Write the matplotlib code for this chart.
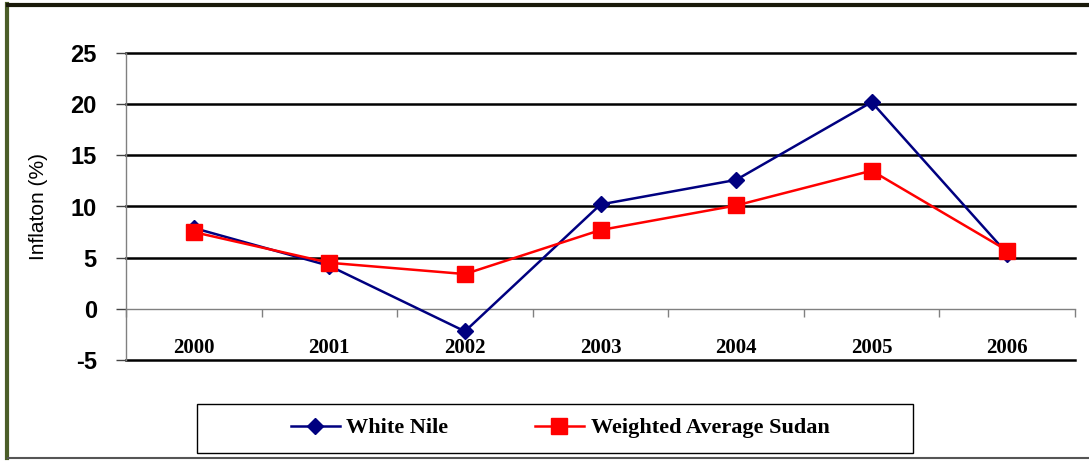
import numpy as np
import matplotlib.pyplot as plt
from matplotlib.lines import Line2D
from matplotlib.patches import Rectangle

years = ['2000', '2001', '2002', '2003', '2004', '2005', '2006']
white_nile = [7.9, 4.2, -2.2, 10.2, 12.6, 20.2, 5.4]
sudan_avg = [7.5, 4.5, 3.4, 7.7, 10.1, 13.5, 5.7]
yticks = [-5, 0, 5, 10, 15, 20, 25]

W, H = 1089, 461
fig = plt.figure(figsize=(W / 100, H / 100), dpi=100)
ax = fig.add_axes([126 / W, 1 - 360 / H, 949 / W, 307 / H])

x = np.arange(len(years))
ax.plot(x, white_nile, color='#000080', lw=1.8, marker='D', ms=8,
        label='White Nile', zorder=4)
ax.plot(x, sudan_avg, color='#ff0000', lw=1.8, marker='s', ms=11,
        label='Weighted Average Sudan', zorder=5)

ax.set_xlim(-0.5, len(years) - 0.5)
ax.set_ylim(-5, 25)
ax.set_yticks(yticks)
ax.set_yticklabels([str(v) for v in yticks], fontname='Liberation Sans',
                   fontweight='bold', fontsize=17)
ax.tick_params(axis='y', length=7, width=1, color='#444444', pad=14)

# gridlines in black, except the zero line which is the category axis
ax.yaxis.grid(True, color='black', lw=1.8)
for gl, v in zip(ax.get_ygridlines(), yticks):
    gl.set_clip_on(False)
    if v == 0:
        gl.set_visible(False)
ax.set_axisbelow(True)

# category axis sits on zero
ax.spines['bottom'].set_position(('data', 0))
ax.spines['bottom'].set_color('#808080')
ax.spines['bottom'].set_linewidth(1)
ax.spines['left'].set_color('#808080')
ax.spines['left'].set_linewidth(1)
ax.spines['top'].set_visible(False)
ax.spines['right'].set_visible(False)

ax.set_xticks(x)
ax.set_xticklabels(years, fontname='Liberation Serif', fontweight='bold',
                   fontsize=15)
ax.tick_params(axis='x', which='major', length=0, pad=21)
ax.set_xticks(np.arange(len(years) + 1) - 0.5, minor=True)
ax.tick_params(axis='x', which='minor', length=6, width=1, color='#808080',
               direction='out')

ax.set_ylabel('Inflaton (%)', fontname='Liberation Sans', fontsize=15,
              labelpad=16)

# legend box under the chart
fig.add_artist(Rectangle((197 / W, 1 - 453 / H), 716 / W, 49 / H,
                         transform=fig.transFigure, fill=False,
                         edgecolor='black', lw=1))
fig.legend(loc='center', bbox_to_anchor=(560 / W, 1 - 428 / H), ncol=2,
           frameon=False, handlelength=2.2, handletextpad=0.3,
           columnspacing=3.9,
           prop={'family': 'Liberation Serif', 'weight': 'bold', 'size': 16})

# outer frame
fig.add_artist(Line2D([7 / W, 7 / W], [1 - 458 / H, 1 - 4 / H],
                      transform=fig.transFigure, color='#4b5e28', lw=3))
fig.add_artist(Line2D([8 / W, 1], [1 - 5 / H, 1 - 5 / H],
                      transform=fig.transFigure, color='#1a1a0a', lw=3))
fig.add_artist(Line2D([8 / W, 1], [1 - 458 / H, 1 - 458 / H],
                      transform=fig.transFigure, color='#555555', lw=1.5))

fig.savefig('out.png', dpi=100)
